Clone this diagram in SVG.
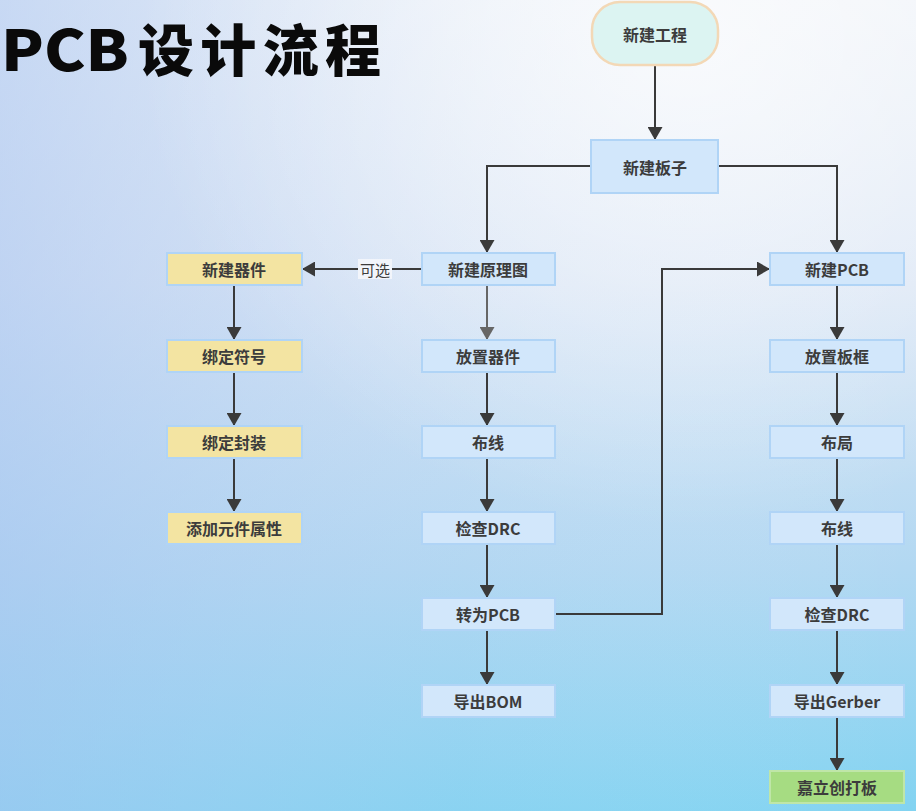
<svg xmlns="http://www.w3.org/2000/svg" width="916" height="811" viewBox="0 0 916 811">
<defs>
<linearGradient id="bg" x1="0" y1="0" x2="0" y2="1">
<stop offset="0" stop-color="#eef2f8"/>
<stop offset="0.35" stop-color="#dbe6f5"/>
<stop offset="0.7" stop-color="#b2d8f2"/>
<stop offset="1" stop-color="#82d3f1"/>
</linearGradient>
<linearGradient id="lt" x1="0" y1="0" x2="1" y2="0">
<stop offset="0" stop-color="#a8c4f0" stop-opacity="0.55"/>
<stop offset="0.5" stop-color="#b8d0f2" stop-opacity="0.15"/>
<stop offset="1" stop-color="#ffffff" stop-opacity="0"/>
</linearGradient>
<radialGradient id="tr" cx="0.75" cy="0.05" r="0.6">
<stop offset="0" stop-color="#ffffff" stop-opacity="0.7"/>
<stop offset="1" stop-color="#ffffff" stop-opacity="0"/>
</radialGradient>
<marker id="ah" viewBox="0 0 13 15" refX="13" refY="7.5" markerWidth="13" markerHeight="15" markerUnits="userSpaceOnUse" orient="auto">
<path d="M0,0 L13,7.5 L0,15 Z" fill="#3a3a3a"/>
</marker>
<marker id="ahg" viewBox="0 0 13 15" refX="13" refY="7.5" markerWidth="13" markerHeight="15" markerUnits="userSpaceOnUse" orient="auto">
<path d="M0,0 L13,7.5 L0,15 Z" fill="#666"/>
</marker>
</defs>
<style>
.t{font-family:"Noto Sans CJK SC","Noto Sans",sans-serif;font-size:16px;font-weight:bold;fill:#3c3c3c;text-anchor:middle;dominant-baseline:central}
.b{fill:#d2e7fb;stroke:#b0d4f6;stroke-width:2}
.y{fill:#f3e4a2;stroke:#b0d4f6;stroke-width:2}
.g{fill:#a6dc82;stroke:#bfe6a8;stroke-width:2}
.c{fill:none;stroke:#3a3a3a;stroke-width:2;marker-end:url(#ah)}
.title{font-family:"Noto Sans CJK SC","Noto Sans",sans-serif;font-size:56px;font-weight:900;fill:#0a0a0a}
</style>
<rect width="916" height="811" fill="url(#bg)"/>
<rect width="916" height="811" fill="url(#lt)"/>
<rect width="916" height="811" fill="url(#tr)"/>
<g id="title">
<text class="title" x="1" y="71" textLength="128" lengthAdjust="spacingAndGlyphs">PCB</text>
<text class="title" x="138" y="71" textLength="243" lengthAdjust="spacing">设计流程</text>
</g>
<g id="connectors">
<path class="c" d="M655,65 V140"/>
<path class="c" d="M591,166 H487 V253"/>
<path class="c" d="M718,166 H837 V253"/>
<path class="c" d="M422,269 H302"/>
<rect x="358" y="259" width="34" height="20" fill="#f2f5fb"/>
<text class="t" x="375" y="269" style="font-weight:normal;font-size:15px">可选</text>
<path d="M487,285 V340" fill="none" stroke="#666" stroke-width="2" marker-end="url(#ahg)"/>
<path class="c" d="M234,285 V340"/>
<path class="c" d="M234,372 V426"/>
<path class="c" d="M234,458 V512"/>
<path class="c" d="M487,372 V426"/>
<path class="c" d="M487,458 V512"/>
<path class="c" d="M487,544 V598"/>
<path class="c" d="M487,630 V685"/>
<path class="c" d="M555,614 H662 V269 H770"/>
<path class="c" d="M837,285 V340"/>
<path class="c" d="M837,372 V426"/>
<path class="c" d="M837,458 V512"/>
<path class="c" d="M837,544 V598"/>
<path class="c" d="M837,630 V685"/>
<path class="c" d="M837,717 V771"/>
</g>
<g id="n_project"><rect x="592" y="2" width="126" height="63" rx="28" fill="#dcf4f2" stroke="#f3d8b6" stroke-width="2.5"/><text class="t" x="655" y="34">新建工程</text></g>
<g id="n_board"><rect class="b" x="591" y="140" width="127" height="53"/><text class="t" x="655" y="167">新建板子</text></g>
<g id="n_sch"><rect class="b" x="422" y="253" width="133" height="32"/><text class="t" x="488" y="269">新建原理图</text></g>
<g id="n_pcb"><rect class="b" x="770" y="253" width="134" height="32"/><text class="t" x="837" y="269">新建PCB</text></g>
<g id="n_newpart"><rect class="y" x="167" y="253" width="135" height="32"/><text class="t" x="234" y="269">新建器件</text></g>
<g id="n_sym"><rect class="y" x="167" y="340" width="135" height="32"/><text class="t" x="234" y="356">绑定符号</text></g>
<g id="n_fp"><rect class="y" x="167" y="426" width="135" height="32"/><text class="t" x="234" y="442">绑定封装</text></g>
<g id="n_attr"><rect class="y" x="167" y="512" width="135" height="32"/><text class="t" x="234" y="528">添加元件属性</text></g>
<g id="n_place"><rect class="b" x="422" y="340" width="133" height="32"/><text class="t" x="488" y="356">放置器件</text></g>
<g id="n_wire"><rect class="b" x="422" y="426" width="133" height="32"/><text class="t" x="488" y="442">布线</text></g>
<g id="n_drc1"><rect class="b" x="422" y="512" width="133" height="32"/><text class="t" x="488" y="528">检查DRC</text></g>
<g id="n_topcb"><rect class="b" x="422" y="598" width="133" height="32"/><text class="t" x="488" y="614">转为PCB</text></g>
<g id="n_bom"><rect class="b" x="422" y="685" width="133" height="32"/><text class="t" x="488" y="701">导出BOM</text></g>
<g id="n_frame"><rect class="b" x="770" y="340" width="134" height="32"/><text class="t" x="837" y="356">放置板框</text></g>
<g id="n_layout"><rect class="b" x="770" y="426" width="134" height="32"/><text class="t" x="837" y="442">布局</text></g>
<g id="n_route"><rect class="b" x="770" y="512" width="134" height="32"/><text class="t" x="837" y="528">布线</text></g>
<g id="n_drc2"><rect class="b" x="770" y="598" width="134" height="32"/><text class="t" x="837" y="614">检查DRC</text></g>
<g id="n_gerber"><rect class="b" x="770" y="685" width="134" height="32"/><text class="t" x="837" y="701">导出Gerber</text></g>
<g id="n_jlc"><rect class="g" x="770" y="771" width="134" height="32"/><text class="t" x="837" y="787">嘉立创打板</text></g>
</svg>
